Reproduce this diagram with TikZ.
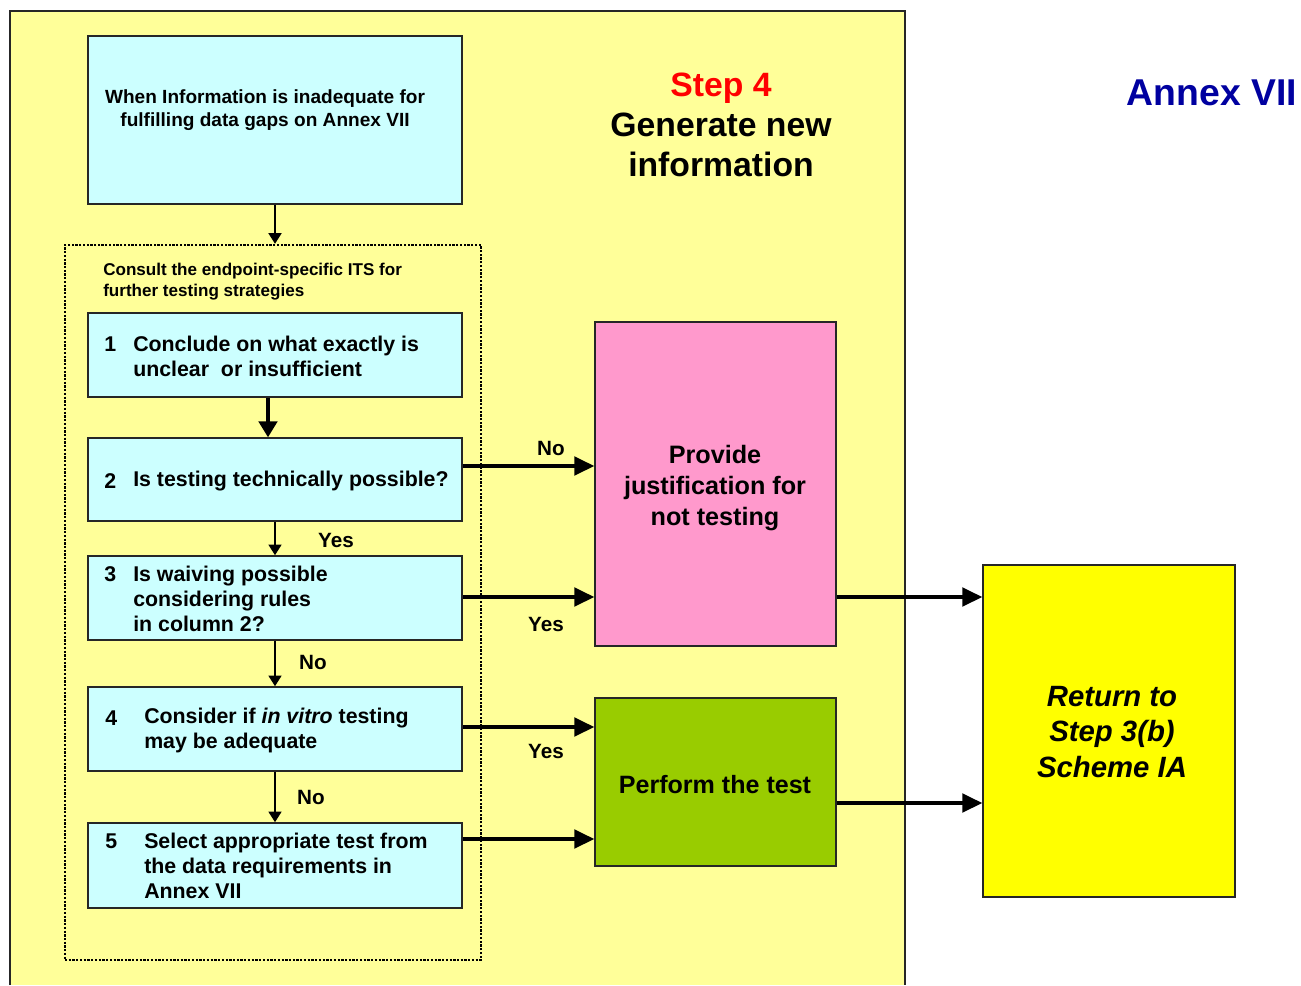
\documentclass[tikz,border=0pt]{standalone}
\usepackage{fontspec}
\setmainfont{Liberation Sans}
\usetikzlibrary{arrows.meta,fit}
\definecolor{bgyel}{HTML}{FFFF99}
\definecolor{cyanbox}{HTML}{CCFFFF}
\definecolor{pinkbox}{HTML}{FF99CC}
\definecolor{greenbox}{HTML}{99CC00}
\definecolor{yelbox}{HTML}{FFFF00}
\definecolor{annexblue}{HTML}{0000A0}
\newcommand{\fs}[2]{\fontsize{#1}{#2}\selectfont\bfseries}
\tikzset{
  boxshape/.style={draw=black!85, line width=1.1pt, inner sep=0pt},
  cybox/.style={boxshape, fill=cyanbox},
  txt/.style={inner sep=0pt, font=\fs{16}{18.75}, align=left, anchor=west},
  numtxt/.style={inner sep=0pt, font=\fs{16}{18.75}, anchor=west},
  lbl/.style={inner sep=0pt, font=\fs{15.5}{18}},
  harrow/.style={line width=2.3pt, -{Triangle[length=15pt,width=14pt]}},
  varrow/.style={line width=1.9pt, -{Triangle[length=8pt,width=9.5pt]}},
  bigvarrow/.style={line width=2.3pt, -{Triangle[length=12pt,width=14pt]}},
}
\begin{document}
\begin{tikzpicture}[x=0.75pt,y=-0.75pt]
\useasboundingbox (0,0) rectangle (1301,985);
% background panel
\fill[bgyel] (10,11) rectangle (905,985);
\draw[line width=1.5pt, black!85] (10,985) -- (10,11) -- (905,11) -- (905,985);

% top box
\node[cybox, fit={(88,36) (462,204)}] (top) {};
\node[inner sep=0pt, font=\fs{14.3}{17.3}, align=center] (toptxt) at (265,110)
  {When Information is inadequate for\\fulfilling data gaps on Annex VII};

% dotted frame
\node[draw, line width=1.7pt, dash pattern=on 1.7pt off 1.1pt, inner sep=0pt,
      fit={(65,245) (481,960)}] (frame) {};
\node[inner sep=0pt, font=\fs{12.8}{15.75}, align=left, anchor=west] (consult) at (103,282)
  {Consult the endpoint-specific ITS for\\further testing strategies};

% step boxes
\node[cybox, fit={(88,313) (462,397)}] (b1) {};
\node[cybox, fit={(88,438) (462,521)}] (b2) {};
\node[cybox, fit={(88,556) (462,640)}] (b3) {};
\node[cybox, fit={(88,687) (462,771)}] (b4) {};
\node[cybox, fit={(88,823) (462,908)}] (b5) {};

\node[numtxt] (n1) at (104,344) {1};
\node[txt] (t1) at (133,356.5) {Conclude on what exactly is\\unclear\ \ or insufficient};
\node[numtxt] (n2) at (104,481) {2};
\node[txt] (t2) at (133,481) {Is testing technically possible?};
\node[numtxt] (n3) at (104,574) {3};
\node[txt] (t3) at (133,599) {Is waiving possible\\considering rules\\in column 2?};
\node[numtxt] (n4) at (105,718) {4};
\node[txt] (t4) at (144,730.5) {Consider if \textit{in vitro} testing\\may be adequate};
\node[numtxt] (n5) at (105,841) {5};
\node[txt] (t5) at (144,866) {Select appropriate test from\\the data requirements in\\Annex VII};

% right boxes
\node[boxshape, fill=pinkbox, fit={(595,322) (836,646)}] (pink) {};
\node[inner sep=0pt, font=\fs{18.9}{23.25}, align=center] (pinktxt) at (715,488)
  {Provide\\justification for\\not testing};
\node[boxshape, fill=greenbox, fit={(595,698) (836,866)}] (green) {};
\node[inner sep=0pt, font=\fs{18.8}{22}] (greentxt) at (715,785) {Perform the test};
\node[boxshape, fill=yelbox, fit={(983,565) (1235,897)}] (ret) {};
\node[inner sep=0pt, font=\fontsize{22}{26.6}\selectfont\bfseries\itshape, align=center] (rettxt) at (1112,732)
  {Return to\\Step 3(b)\\Scheme IA};

% titles
\node[inner sep=0pt, font=\fs{25.3}{30}, align=center] (title) at (721,124.5)
  {\textcolor{red}{Step 4}\\Generate new\\information};
\node[inner sep=0pt, font=\fs{28}{32}, text=annexblue] (annex) at (1212,93) {Annex VII};

% vertical arrows
\draw[varrow] (top.south -| 275,0) -- (frame.north -| 275,0);
\draw[bigvarrow] (b1.south -| 268,0) -- (b2.north -| 268,0);
\draw[varrow] (b2.south -| 275,0) -- (b3.north -| 275,0);
\draw[varrow] (b3.south -| 275,0) -- (b4.north -| 275,0);
\draw[varrow] (b4.south -| 275,0) -- (b5.north -| 275,0);

% horizontal arrows
\draw[harrow] (b2.east |- 0,466) -- (pink.west |- 0,466);
\draw[harrow] (b3.east |- 0,597) -- (pink.west |- 0,597);
\draw[harrow] (b4.east |- 0,727) -- (green.west |- 0,727);
\draw[harrow] (b5.east |- 0,839) -- (green.west |- 0,839);
\draw[harrow] (pink.east |- 0,597) -- (ret.west |- 0,597);
\draw[harrow] (green.east |- 0,803) -- (ret.west |- 0,803);

% labels
\node[lbl] (l1) at (551,448) {No};
\node[lbl] (l2) at (336,540) {Yes};
\node[lbl] (l3) at (546,624) {Yes};
\node[lbl] (l4) at (313,662) {No};
\node[lbl] (l5) at (546,751) {Yes};
\node[lbl] (l6) at (311,797) {No};
\end{tikzpicture}
\end{document}
